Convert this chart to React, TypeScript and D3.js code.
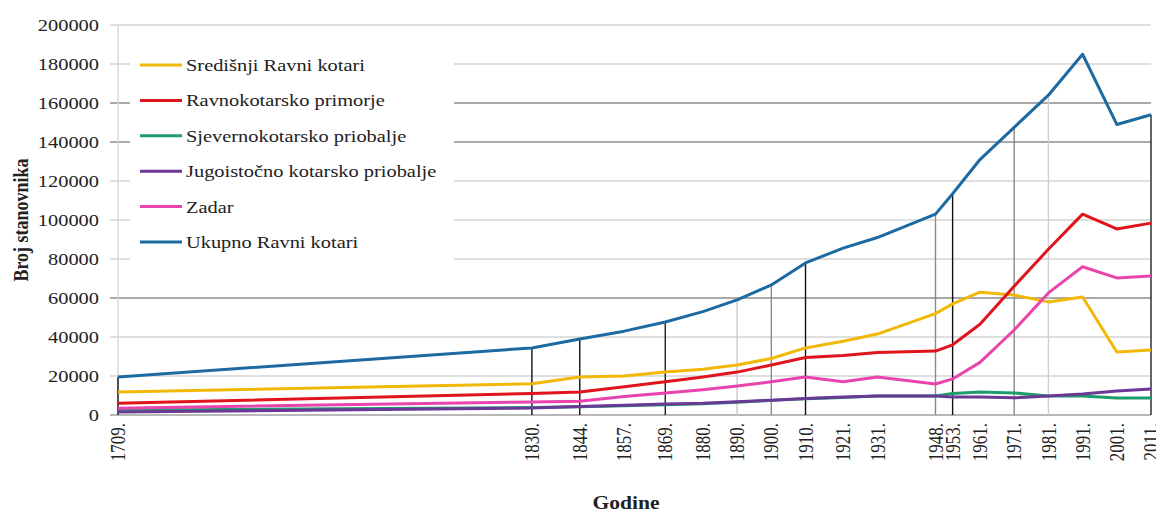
import React from "react";
import * as d3 from "d3";

const years = [1709, 1830, 1844, 1857, 1869, 1880, 1890, 1900, 1910, 1921, 1931, 1948, 1953, 1961, 1971, 1981, 1991, 2001, 2011];
const yearLabels = years.map((y) => `${y}.`);

const srednjiRavniKotari = [11800, 16000, 19500, 20000, 22000, 23500, 25600, 29000, 34400, 37800, 41500, 52000, 57000, 63000, 61500, 58000, 60500, 32300, 33300];
const ravnokotarskoPrimorje = [6000, 11000, 11800, 14500, 17000, 19500, 22000, 25600, 29500, 30500, 32000, 32800, 36000, 46500, 66000, 85000, 103000, 95400, 98400];
const sjevernokotarskoPriobalje = [2500, 3800, 4200, 4800, 5200, 5800, 6500, 7500, 8300, 9000, 9800, 9800, 11000, 11800, 11300, 9800, 9800, 8700, 8700];
const jugoistocnoPriobalje = [1500, 3600, 4400, 5000, 5600, 6000, 6800, 7600, 8500, 9200, 9800, 9700, 9200, 9200, 8800, 9700, 10800, 12300, 13300];
const zadar = [3500, 6700, 7000, 9500, 11300, 13000, 14900, 17000, 19500, 17000, 19500, 15900, 18500, 27000, 43600, 62600, 76000, 70300, 71300];
const ukupnoRavniKotari = [19500, 34400, 39000, 43000, 47700, 53000, 59000, 66700, 78000, 85600, 91000, 103000, 113500, 131000, 147500, 164000, 185000, 149000, 154000];

const seriesNames = [
  "Središnji Ravni kotari",
  "Ravnokotarsko primorje",
  "Sjevernokotarsko priobalje",
  "Jugoistočno kotarsko priobalje",
  "Zadar",
  "Ukupno Ravni kotari",
];
const seriesValues = [srednjiRavniKotari, ravnokotarskoPrimorje, sjevernokotarskoPriobalje, jugoistocnoPriobalje, zadar, ukupnoRavniKotari];
const seriesColors = ["#f2b807", "#e0141c", "#1e9c6c", "#6a3996", "#e943ad", "#1d6aa3"];

const yTicks = [0, 20000, 40000, 60000, 80000, 100000, 120000, 140000, 160000, 180000, 200000];
const darkGridTicks = [60000, 140000, 160000];

// years that show a visible drop line, and its shade
const dropLineYears = [1709, 1830, 1844, 1869, 1890, 1900, 1910, 1948, 1953, 1971, 1981, 2011];
const dropLineShade: Record<number, string> = {
  1709: "#111", 1830: "#111", 1844: "#111", 1869: "#222", 1890: "#c8c8c8", 1900: "#8a8a8a",
  1910: "#111", 1948: "#8a8a8a", 1953: "#111", 1971: "#8a8a8a", 1981: "#cfcfcf", 2011: "#222",
};

const W = 1156;
const H = 513;
const FONT = "'Liberation Serif', 'Times New Roman', serif";
const SX = 1.2;

export default function App() {
  const x = d3.scaleLinear().domain([1709, 2011]).range([118, 1151]);
  const y = d3.scaleLinear().domain([0, 200000]).range([415, 25]);

  const line = d3
    .line<number>()
    .x((_, i) => x(years[i]))
    .y((d) => y(d))
    .curve(d3.curveLinear);

  const legendX = 140;
  const legendY0 = 65;
  const legendStep = 35.4;

  return (
    <svg
      width={W}
      height={H}
      style={{ position: "absolute", left: 0, top: 0, background: "#fff" }}
      fontFamily={FONT}
    >
      <rect x={0} y={0} width={W} height={H} fill="#fff" />
      {/* gridlines */}
      {yTicks.map((t) => (
        <line
          key={t}
          x1={110}
          x2={x(2011)}
          y1={y(t)}
          y2={y(t)}
          stroke={t === 0 ? "#a0a0a0" : darkGridTicks.includes(t) ? "#8c8c8c" : "#d4d4d4"}
          strokeWidth={1.3}
        />
      ))}
      {/* left axis */}
      <line x1={x(1709)} x2={x(1709)} y1={y(200000)} y2={y(0)} stroke="#d4d4d4" strokeWidth={1.3} />
      {/* y tick labels */}
      {yTicks.map((t) => (
        <text
          key={t}
          transform={`translate(99,${y(t)}) scale(${SX},1)`}
          dy="0.35em"
          textAnchor="end"
          fontSize={17}
          fill="#222"
        >
          {t}
        </text>
      ))}
      {/* drop lines */}
      {dropLineYears.map((yr) => {
        const i = years.indexOf(yr);
        return (
          <line
            key={yr}
            x1={x(yr)}
            x2={x(yr)}
            y1={y(ukupnoRavniKotari[i])}
            y2={y(0)}
            stroke={dropLineShade[yr]}
            strokeWidth={1.4}
          />
        );
      })}
      {/* series */}
      {seriesValues.map((vals, si) => (
        <path key={si} d={line(vals) || ""} fill="none" stroke={seriesColors[si]} strokeWidth={3} strokeLinejoin="round" />
      ))}
      {/* x labels */}
      {years.map((yr, i) => (
        <text
          key={yr}
          transform={`translate(${x(yr)},423) scale(${SX},1) rotate(-90)`}
          dy="0.35em"
          textAnchor="end"
          fontSize={17}
          fill="#222"
        >
          {yearLabels[i]}
        </text>
      ))}
      {/* legend */}
      <rect x={130} y={44} width={324} height={216} fill="#fff" />
      {seriesNames.map((name, i) => {
        const ly = legendY0 + i * legendStep;
        return (
          <g key={name}>
            <line x1={legendX} x2={legendX + 42} y1={ly} y2={ly} stroke={seriesColors[i]} strokeWidth={3} />
            <text transform={`translate(${legendX + 46},${ly}) scale(${SX},1)`} dy="0.35em" fontSize={17} fill="#222">
              {name}
            </text>
          </g>
        );
      })}
      {/* axis titles */}
      <text
        transform={`translate(20,220) scale(${SX},1) rotate(-90)`}
        dy="0.35em"
        textAnchor="middle"
        fontSize={18}
        fontWeight="bold"
        fill="#222"
      >
        Broj stanovnika
      </text>
      <text transform={`translate(626,509) scale(${SX},1)`} textAnchor="middle" fontSize={18} fontWeight="bold" fill="#222">
        Godine
      </text>
    </svg>
  );
}
